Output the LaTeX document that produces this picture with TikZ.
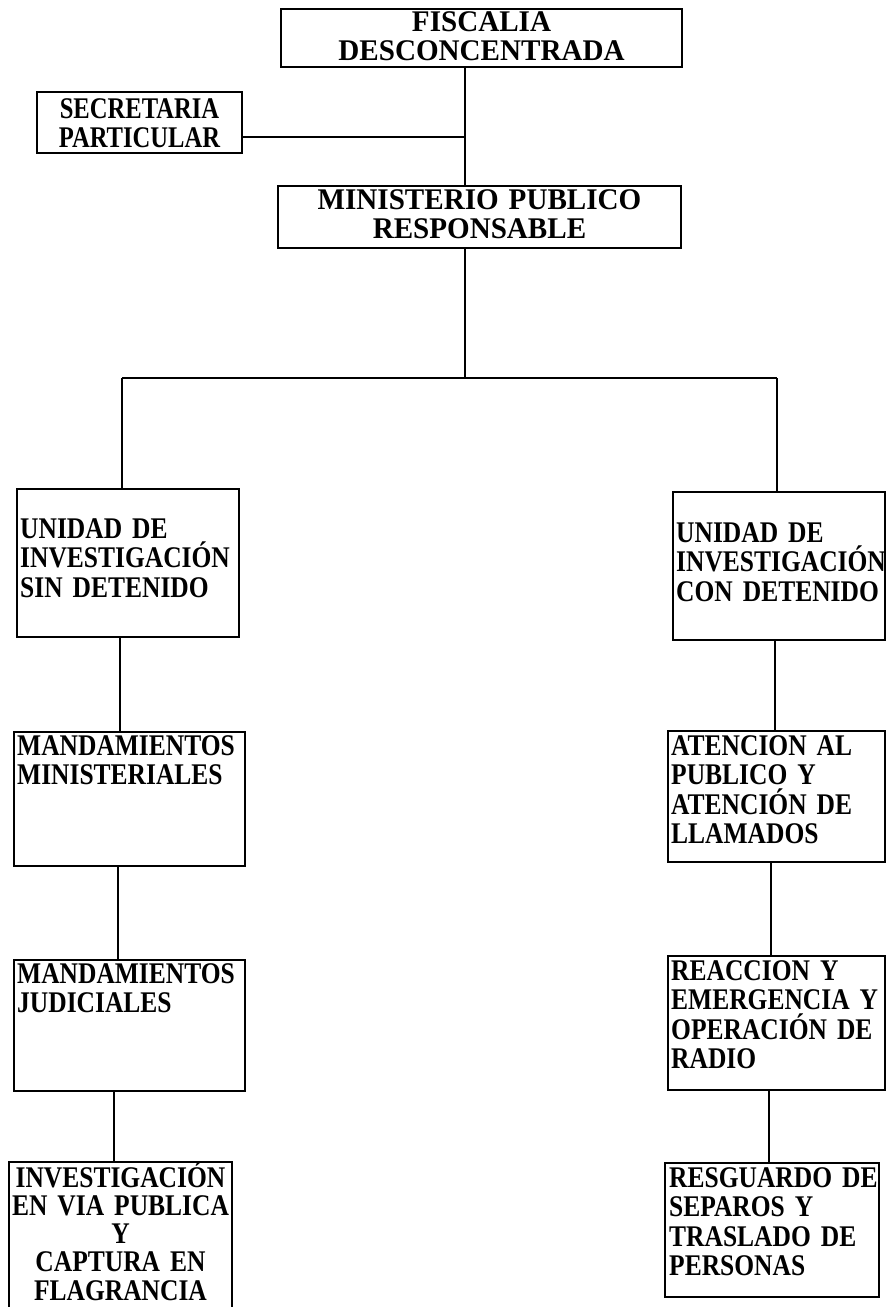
\documentclass[tikz,border=0pt]{standalone}
\usepackage{fontspec}
\setmainfont{Liberation Serif}[FakeStretch=0.82]
\newfontfamily\topfont{Liberation Serif}[FakeStretch=0.97]
\newfontfamily\lowfont{Liberation Serif}[FakeStretch=0.85,WordSpace=0.8]
\begin{document}
\begin{tikzpicture}[x=1pt,y=-1pt,
  box/.style={draw, line width=2pt, inner sep=0pt},
  conn/.style={draw, line width=1.6pt},
  lt/.style={inner sep=0pt, anchor=base west, align=left, text width=240pt,
    font=\lowfont\bfseries\fontsize{30}{29.5}\selectfont},
  ct/.style={inner sep=0pt, anchor=base, align=center,
    font=\bfseries\fontsize{30}{29}\selectfont}]
\useasboundingbox (0,0) rectangle (887,1307);
% boxes
\node[box, minimum width=401pt, minimum height=58pt] (fisc) at (481.5,38) {};
\node[box, minimum width=205pt, minimum height=61pt] (secr) at (139.5,122.5) {};
\node[box, minimum width=403pt, minimum height=62pt] (mini) at (479.5,217) {};
\node[box, minimum width=222pt, minimum height=148pt] (u1) at (128,563) {};
\node[box, minimum width=212pt, minimum height=148pt] (u2) at (779,566) {};
\node[box, minimum width=231pt, minimum height=134pt] (mm) at (129.5,799) {};
\node[box, minimum width=231pt, minimum height=131pt] (mj) at (129.5,1025.5) {};
\node[box, minimum width=223pt, minimum height=158pt] (inv) at (120.5,1241) {};
\node[box, minimum width=217pt, minimum height=131pt] (at) at (776.5,796.5) {};
\node[box, minimum width=217pt, minimum height=134pt] (re) at (776.5,1023) {};
\node[box, minimum width=214pt, minimum height=134pt] (rs) at (772,1230) {};
% texts
\node[ct, text width=401pt, font=\topfont\bfseries\fontsize{30}{29}\selectfont] (fisct) at (481.5,31) {FISCALIA\\DESCONCENTRADA};
\node[ct, text width=205pt] (secrt) at (139.5,118) {SECRETARIA\\PARTICULAR};
\node[ct, text width=403pt, font=\topfont\bfseries\fontsize{30}{29}\selectfont] (minit) at (479.5,209) {MINISTERIO PUBLICO\\RESPONSABLE};
\node[lt] (u1t) at (20,538) {UNIDAD DE\\INVESTIGACIÓN\\SIN DETENIDO};
\node[lt] (u2t) at (676,542) {UNIDAD DE\\INVESTIGACIÓN\\CON DETENIDO};
\node[lt] (mmt) at (17,755) {MANDAMIENTOS\\MINISTERIALES};
\node[lt] (mjt) at (17,983) {MANDAMIENTOS\\JUDICIALES};
\node[ct, text width=223pt, font=\lowfont\bfseries\fontsize{30}{28.3}\selectfont] (invt) at (120.5,1187)
  {INVESTIGACIÓN\\EN VIA PUBLICA\\Y\\CAPTURA EN\\FLAGRANCIA};
\node[lt] (att) at (671,755) {ATENCION AL\\PUBLICO Y\\ATENCIÓN DE\\LLAMADOS};
\node[lt] (ret) at (671,980) {REACCION Y\\EMERGENCIA Y\\OPERACIÓN DE\\RADIO};
\node[lt] (rst) at (669,1187) {RESGUARDO DE\\SEPAROS Y\\TRASLADO DE\\PERSONAS};
% connector coordinates
\coordinate (j1) at (465,137);
\coordinate (bus) at (465,378);
\coordinate (bl) at (122,378);
\coordinate (br) at (777,378);
\coordinate (c1) at (120,0);
\coordinate (c2) at (118,0);
\coordinate (c3) at (114,0);
\coordinate (c4) at (775,0);
\coordinate (c5) at (771,0);
\coordinate (c6) at (769,0);
% connectors
\draw[conn] (fisc.south -| j1) -- (mini.north -| j1);
\draw[conn] (secr.east |- j1) -- (j1);
\draw[conn] (mini.south -| bus) -- (bus);
\draw[conn] (bl) -- (br);
\draw[conn] (bl) -- (u1.north -| bl);
\draw[conn] (br) -- (u2.north -| br);
\draw[conn] (u1.south -| c1) -- (mm.north -| c1);
\draw[conn] (mm.south -| c2) -- (mj.north -| c2);
\draw[conn] (mj.south -| c3) -- (inv.north -| c3);
\draw[conn] (u2.south -| c4) -- (at.north -| c4);
\draw[conn] (at.south -| c5) -- (re.north -| c5);
\draw[conn] (re.south -| c6) -- (rs.north -| c6);
\end{tikzpicture}
\end{document}
